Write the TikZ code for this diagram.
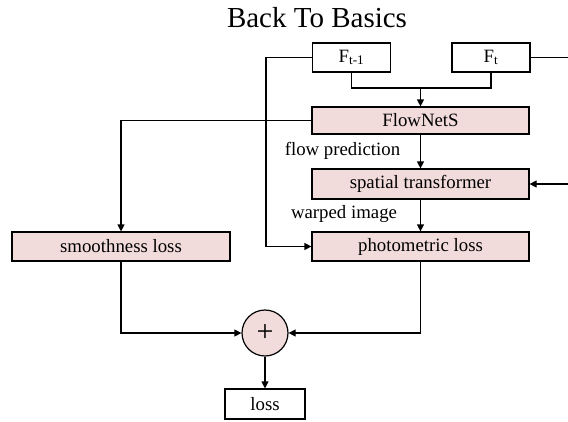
\documentclass[tikz,border=0pt]{standalone}
\usepackage{fontspec}
\setmainfont{Liberation Serif}
\usetikzlibrary{arrows.meta}
\definecolor{boxpink}{HTML}{F2DCDB}
\tikzset{
  txt/.style={font=\fontsize{18.8}{21}\selectfont},
  blk/.style={txt, draw=black, line width=1.2pt, fill=boxpink, minimum width=217pt, minimum height=28pt, inner sep=0pt},
  io/.style={txt, draw=black, line width=1.2pt, fill=white, minimum width=78pt, minimum height=29pt, inner sep=0pt},
  lbl/.style={txt, inner sep=0pt},
  conn/.style={line width=1.2pt},
  arr/.style={conn, -{Triangle[length=7pt,width=7pt]}},
}
\begin{document}
\begin{tikzpicture}[x=1pt, y=-1pt]
\useasboundingbox (0,0) rectangle (568,421);
% title
\node[font=\fontsize{29}{32}\selectfont, inner sep=0pt] (title) at (317,18) {Back To Basics};
% input frames
\node[io] (f1) at (351.5,57.5) {F\textsubscript{t-1}};
\node[io] (ft) at (491,57.5) {F\textsubscript{t}};
% processing blocks
\node[blk, minimum height=27pt] (flow) at (420.5,120.5) {FlowNetS};
\node[blk, minimum height=30pt] (st) at (420.5,184) {spatial transformer};
\node[blk, minimum height=29pt] (pl) at (420.5,246.5) {photometric loss};
\node[blk, minimum height=29pt, minimum width=218pt] (sm) at (121,246.5) {smoothness loss};
% summation and output
\node[circle, draw=black, line width=1.2pt, fill=boxpink, minimum size=46pt, inner sep=0pt, font=\fontsize{30}{32}\selectfont] (sum) at (265,333) {+};
\node[io, minimum width=80pt, minimum height=30pt] (loss) at (265,404) {loss};
% edge labels
\node[lbl] (lflow) at (342.5,151) {flow prediction};
\node[lbl] (lwarp) at (344,214) {warped image};
% free ends at the right border
\coordinate (ftout) at (568,57.5);
\coordinate (stin) at (568,184);
\coordinate (merge) at (420.5,88);
% connectors
\draw[conn] (ft.east) -- (ftout);
\draw[arr] (stin) -- (st.east);
\draw[conn] (f1.south) |- (merge) -| (ft.south);
\draw[arr] (merge) -- (flow.north);
\draw[arr] (f1.west) -- ++(-46,0) |- (pl.west);
\draw[arr] (flow.west) -| (sm.north);
\draw[arr] (flow.south) -- (st.north);
\draw[arr] (st.south) -- (pl.north);
\draw[arr] (sm.south) |- (sum.west);
\draw[arr] (pl.south) |- (sum.east);
\draw[arr] (sum.south) -- (loss.north);
\end{tikzpicture}
\end{document}
